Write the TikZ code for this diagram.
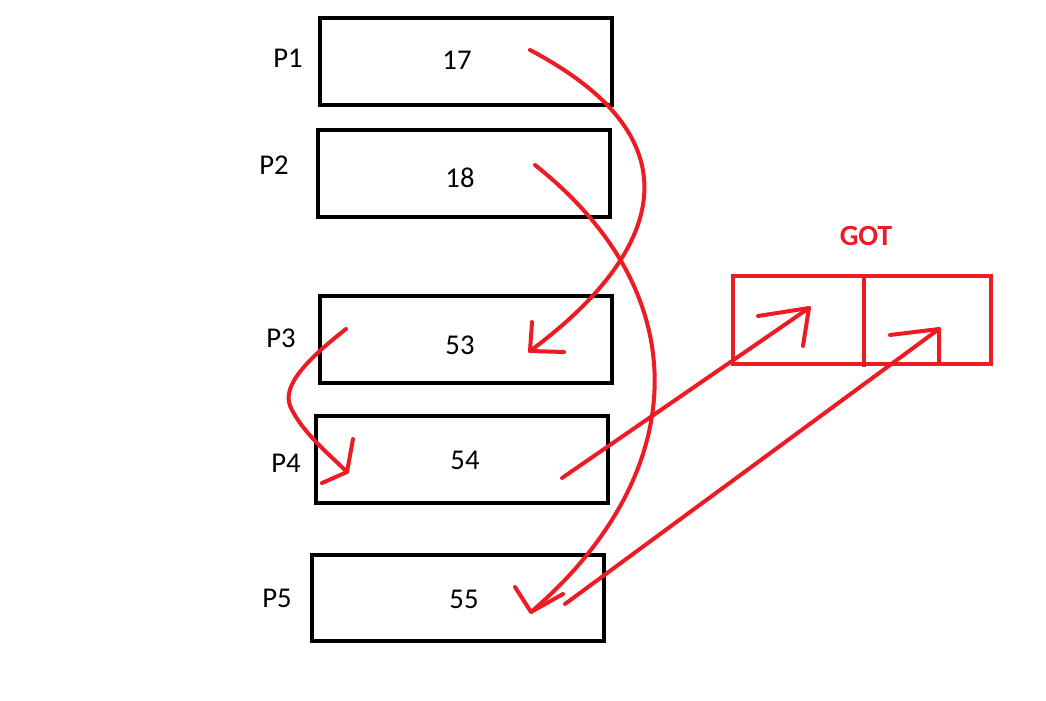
\documentclass[tikz,border=0pt]{standalone}
\usepackage{fontspec}
\setmainfont{Carlito}
\definecolor{pred}{HTML}{ED1C24}
\begin{document}
\begin{tikzpicture}[x=0.75pt,y=-0.75pt,
  bx/.style={draw=black,line width=3pt,minimum width=219pt,minimum height=65pt,inner sep=0pt},
  num/.style={font=\fontsize{21.5}{25}\selectfont,inner sep=0pt},
  lbl/.style={font=\fontsize{21.5}{25}\selectfont,inner sep=0pt},
  rl/.style={draw=pred,line width=3pt,line cap=round,line join=round}]
\useasboundingbox (0,0) rectangle (1046,700);
% boxes
\node[bx] (b1) at (466,61.5) {};
\node[bx] (b2) at (464,173.5) {};
\node[bx] (b3) at (466,339.5) {};
\node[bx] (b4) at (462,459.5) {};
\node[bx] (b5) at (458,598) {};
\node[num] (n1) at (457,60) {17};
\node[num] (n2) at (460,178) {18};
\node[num] (n3) at (460,345) {53};
\node[num] (n4) at (465,460) {54};
\node[num] (n5) at (464,599) {55};
\node[lbl] (p1) at (288,58) {P1};
\node[lbl] (p2) at (274,165) {P2};
\node[lbl] (p3) at (281,338) {P3};
\node[lbl] (p4) at (286,463) {P4};
\node[lbl] (p5) at (277,598) {P5};
% GOT
\node[draw=pred,line width=3pt,minimum width=193.5pt,minimum height=66pt,inner sep=0pt] (got) at (862,319.5) {};
\coordinate (dtop) at (864,275);
\coordinate (dbot) at (864,367);
\draw[pred,line width=3.5pt] (dtop) -- (dbot);
\node[font=\fontsize{22}{26}\selectfont\bfseries,text=pred,inner sep=0pt] (gotl) at (866,236) {GOT};
% arrow coordinates
\coordinate (s1) at (530,50);
\coordinate (t1) at (530,351);
\coordinate (s2) at (535,165);
\coordinate (t2) at (531,612);
\coordinate (s3) at (346,329);
\coordinate (t3) at (347,472);
\coordinate (s4) at (562,478);
\coordinate (t4) at (809,308);
\coordinate (s5) at (565,604);
\coordinate (t5) at (939,329);
% curves
\draw[rl] (s1) .. controls (720,150) and (640,270) .. (t1);
\draw[rl] (532,322) -- (t1) -- (564,352);
\draw[rl] (s2) .. controls (705,300) and (685,480) .. (t2);
\draw[rl] (515,587) -- (t2) -- (563,594);
\draw[rl] (s3) .. controls (300,365) and (280,390) .. (292,410) .. controls (305,435) and (330,455) .. (t3);
\draw[rl] (353,439) -- (t3) -- (322,483);
\draw[rl] (s4) -- (t4);
\draw[rl] (758,316) -- (t4) -- (803,346);
\draw[rl] (s5) -- (t5);
\draw[rl] (890,335) -- (t5) -- (939,363);
\end{tikzpicture}
\end{document}
